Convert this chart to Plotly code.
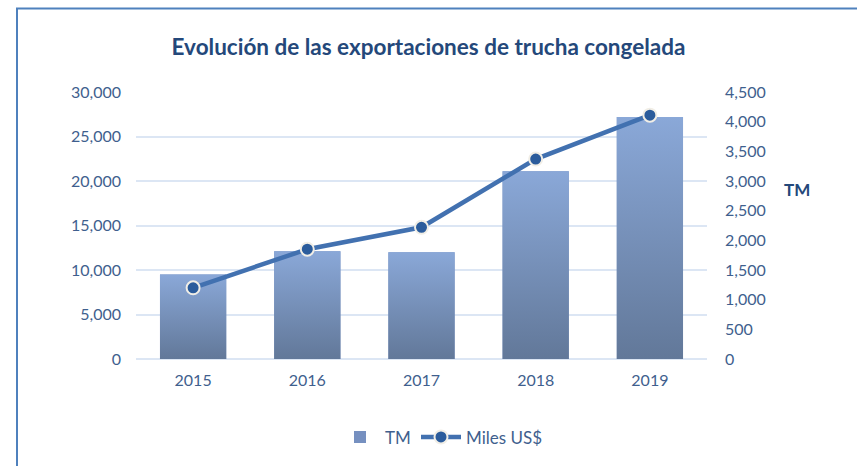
import plotly.graph_objects as go

# Data
years = ["2015", "2016", "2017", "2018", "2019"]
tm = [9500, 12100, 12000, 21100, 27200]            # toneladas métricas (eje izquierdo)
miles_usd = [1200, 1850, 2220, 3370, 4110]          # miles de US$ (eje derecho)
left_ticks = [0, 5000, 10000, 15000, 20000, 25000, 30000]
right_ticks = [0, 500, 1000, 1500, 2000, 2500, 3000, 3500, 4000, 4500]

FONT = "Lato"
TICK_COLOR = "#3f5f8e"
TITLE_COLOR = "#24487a"
GRID_COLOR = "#dce6f4"
BAR_TOP = "#8aa8d8"
BAR_BOTTOM = "#627899"
BAR_MID = "#7690c0"
LINE_COLOR = "#4271b0"
MARKER_COLOR = "#2b5c9c"
BAR_WIDTH = 0.58

pos = list(range(len(years)))

fig = go.Figure()

# Solid bars (legend + hover), then a vertical gradient fill over each bar
fig.add_trace(go.Bar(
    x=pos, y=tm, width=BAR_WIDTH, name="TM",
    marker=dict(color=BAR_MID, line=dict(width=0)),
    yaxis="y", legend="legend",
))
for p, v in zip(pos, tm):
    x0, x1 = p - BAR_WIDTH / 2, p + BAR_WIDTH / 2
    fig.add_trace(go.Scatter(
        x=[x0, x0, x1, x1, x0], y=[0, v, v, 0, 0],
        mode="lines", line=dict(width=0), fill="toself",
        fillgradient=dict(type="vertical",
                          colorscale=[[0, BAR_BOTTOM], [1, BAR_TOP]]),
        showlegend=False, hoverinfo="skip", yaxis="y",
    ))

fig.add_trace(go.Scatter(
    x=pos, y=miles_usd, name="Miles US$", yaxis="y2", legend="legend2",
    mode="lines+markers",
    line=dict(color=LINE_COLOR, width=4.5),
    marker=dict(size=13, color=MARKER_COLOR,
                line=dict(color="#f1eee6", width=2)),
))

legend_common = dict(
    orientation="h", xanchor="left",
    y=(360.5 - 438) / 268.5, yanchor="middle",
    font=dict(family=FONT, size=17, color=TICK_COLOR),
    itemwidth=40, bgcolor="rgba(0,0,0,0)",
)

fig.update_layout(
    width=857, height=466,
    margin=dict(l=136, r=150, t=92, b=105.5),
    paper_bgcolor="white", plot_bgcolor="white",
    font=dict(family=FONT, color=TICK_COLOR, size=16),
    title=dict(
        text="<b>Evolución de las exportaciones de trucha congelada</b>",
        x=0.5, xref="container", xanchor="center",
        y=1 - 47 / 466, yref="container", yanchor="middle",
        font=dict(family=FONT, size=22.5, color=TITLE_COLOR),
    ),
    xaxis=dict(
        range=[-0.5, 4.5], tickvals=pos, ticktext=years,
        showgrid=False, zeroline=False, showline=False, ticks="",
        ticklabelstandoff=10,
    ),
    yaxis=dict(
        range=[0, 30000], tickvals=left_ticks, tickformat=",d",
        showgrid=True, gridcolor=GRID_COLOR, gridwidth=2,
        zeroline=True, zerolinecolor=GRID_COLOR, zerolinewidth=2,
        showline=False, ticks="", ticklabelstandoff=14,
    ),
    yaxis2=dict(
        range=[0, 4500], tickvals=right_ticks, tickformat=",d",
        overlaying="y", side="right",
        showgrid=False, zeroline=False, showline=False, ticks="",
        ticklabelstandoff=17,
    ),
    legend=dict(x=(335 - 136) / 571, **legend_common),
    legend2=dict(x=(416 - 136) / 571, **legend_common),
    showlegend=True,
    annotations=[dict(
        text="<b>TM</b>", xref="paper", yref="paper",
        x=(797 - 136) / 571, y=(360.5 - 190) / 268.5,
        xanchor="center", yanchor="middle", showarrow=False,
        font=dict(family=FONT, size=17, color=TITLE_COLOR),
    )],
    shapes=[dict(
        type="rect", xref="paper", yref="paper",
        x0=(17 - 136) / 571, x1=1.6,
        y0=(360.5 - 8) / 268.5, y1=-0.6,
        line=dict(color="#4f81bd", width=2), fillcolor="rgba(0,0,0,0)",
        layer="below",
    )],
)

fig.write_html("out.html")
